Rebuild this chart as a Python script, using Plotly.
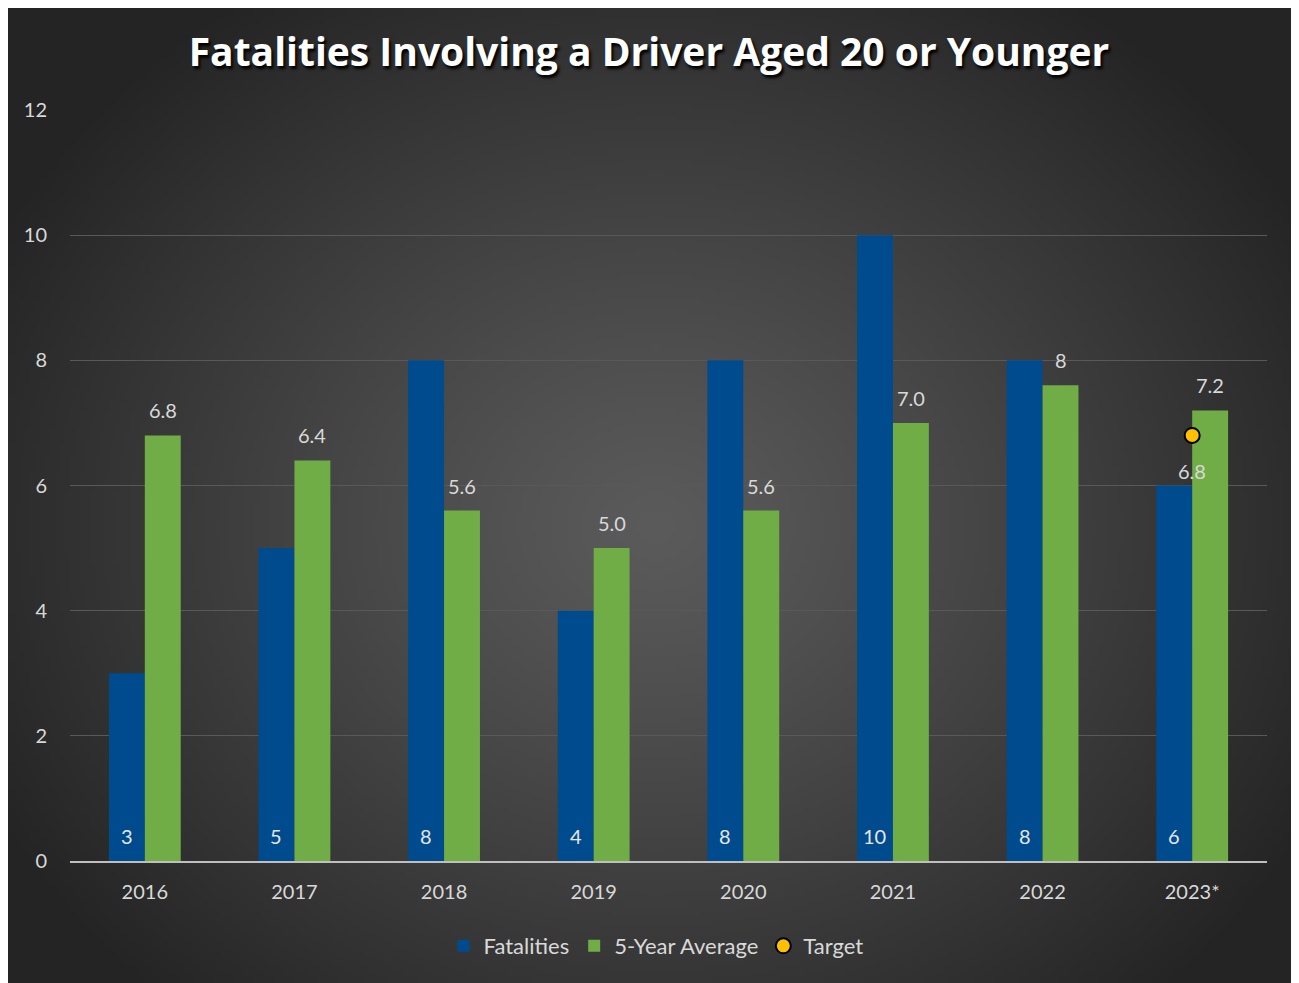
import base64, struct, zlib
import numpy as np
import plotly.graph_objects as go

years = ["2016", "2017", "2018", "2019", "2020", "2021", "2022", "2023*"]
fatalities = [3, 5, 8, 4, 8, 10, 8, 6]
five_year_avg = [6.8, 6.4, 5.6, 5.0, 5.6, 7.0, 7.6, 7.2]
avg_labels = ["6.8", "6.4", "5.6", "5.0", "5.6", "7.0", "8", "7.2"]
target_year = ["2023*"]
target_value = [6.8]
target_labels = ["6.8"]

# ---- radial-gradient background image (PNG built in memory) ----
def gradient_png(w=260, h=196):
    yy, xx = np.mgrid[0:h, 0:w]
    cx, cy = w * 0.5, h * 0.53
    r = np.sqrt(((xx - cx) / (w * 0.58)) ** 2 + ((yy - cy) / (h * 0.66)) ** 2)
    r = np.clip(r, 0, 1)
    v = 91 - 55 * r ** 1.15
    v = np.clip(v, 0, 255).astype(np.uint8)
    rgb = np.stack([v, v, v], axis=-1)
    raw = b"".join(b"\x00" + rgb[i].tobytes() for i in range(h))
    def chunk(t, d):
        c = struct.pack(">I", len(d)) + t + d
        return c + struct.pack(">I", zlib.crc32(t + d) & 0xffffffff)
    png = b"\x89PNG\r\n\x1a\n" + chunk(b"IHDR", struct.pack(">IIBBBBB", w, h, 8, 2, 0, 0, 0)) \
        + chunk(b"IDAT", zlib.compress(raw, 9)) + chunk(b"IEND", b"")
    return "data:image/png;base64," + base64.b64encode(png).decode()

FONT = "Lato"
TXT = "#d9d9d9"
BLUE = "#004B8D"
GREEN = "#70AD47"

W, H = 1291, 975
L, R, T, B = 62, 32, 102, 122
pw, ph = W - L - R, H - T - B
cat_w = pw / len(years)
half_bar = cat_w * 0.24 / 2

fig = go.Figure()
fig.add_trace(go.Bar(
    x=years, y=fatalities, name="Fatalities", marker=dict(color=BLUE, line=dict(width=0)),
))
fig.add_trace(go.Bar(
    x=years, y=five_year_avg, name="5-Year Average", marker=dict(color=GREEN, line=dict(width=0)),
))
fig.add_trace(go.Scatter(
    x=target_year, y=target_value, name="Target", mode="markers",
    marker=dict(color="#FFC000", size=15, line=dict(color="#000000", width=2)),
))

# data labels (category axis: annotation x given as category index)
for i, v in enumerate(fatalities):
    fig.add_annotation(x=i, y=0, text=str(v), showarrow=False, xshift=-half_bar, yshift=25,
                       yanchor="middle", font=dict(family=FONT, size=20, color="#e6e6e6"))
for i, (v, lab) in enumerate(zip(five_year_avg, avg_labels)):
    fig.add_annotation(x=i, y=v, text=lab, showarrow=False, xshift=half_bar, yshift=25,
                       yanchor="middle", font=dict(family=FONT, size=20, color=TXT))
for yr, v, lab in zip(target_year, target_value, target_labels):
    fig.add_annotation(x=years.index(yr), y=v, text=lab, showarrow=False, yshift=-36,
                       yanchor="middle", font=dict(family=FONT, size=20, color=TXT))

fig.update_layout(
    width=W, height=H,
    margin=dict(l=L, r=R, t=T, b=B),
    paper_bgcolor="#262626",
    plot_bgcolor="rgba(0,0,0,0)",
    barmode="group", bargap=0.52, bargroupgap=0,
    font=dict(family=FONT, size=20, color=TXT),
    title=dict(
        text="<b>Fatalities Involving a Driver Aged 20 or Younger</b>",
        x=(649 - 8) / W, xanchor="center", y=1 - 44 / H, yanchor="middle",
        font=dict(family="Open Sans", size=39, color="#ffffff", shadow="2px 3px 3px #000000"),
    ),
    legend=dict(
        orientation="h", xref="container", x=(656 - 8) / W, xanchor="center",
        yref="container", y=1 - 938 / H, yanchor="middle",
        font=dict(family=FONT, size=22, color=TXT), bgcolor="rgba(0,0,0,0)",
    ),
    xaxis=dict(
        type="category", categoryorder="array", categoryarray=years,
        range=[-0.5, len(years) - 0.5],
        showgrid=False, showline=True, linecolor="#bfbfbf", linewidth=2,
        ticks="", tickfont=dict(family=FONT, size=20, color=TXT), ticklabelstandoff=12,
    ),
    yaxis=dict(
        range=[0, 12], dtick=2, showgrid=True, gridcolor="#595959", gridwidth=1,
        zeroline=False, showline=False, ticks="",
        tickfont=dict(family=FONT, size=20, color=TXT), ticklabelstandoff=22,
    ),
    showlegend=True,
)
fig.add_layout_image(dict(
    source=gradient_png(), xref="paper", yref="paper", x=-L / pw, y=(H - B) / ph,
    sizex=W / pw, sizey=H / ph, xanchor="left", yanchor="top",
    sizing="stretch", layer="below",
))

fig.write_html("out.html")
